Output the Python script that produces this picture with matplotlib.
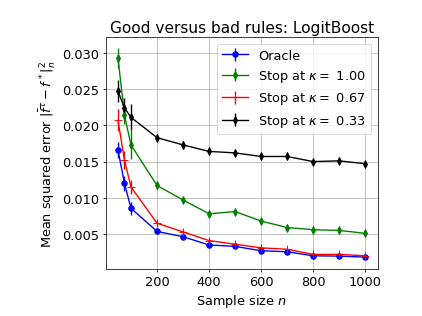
import matplotlib
matplotlib.use("Agg")
import matplotlib.pyplot as plt
import numpy as np

plt.rcParams['font.size'] = 14

# sample sizes
n = [50, 75, 100, 200, 300, 400, 500, 600, 700, 800, 900, 1000]

# mean squared errors
oracle = [0.0166, 0.0120, 0.00855, 0.00537, 0.00463, 0.00350, 0.00330, 0.00270, 0.00256, 0.00200, 0.00196, 0.00182]
stop_100 = [0.0293, 0.0214, 0.0173, 0.0117, 0.0097, 0.0078, 0.0081, 0.0068, 0.0059, 0.0056, 0.0055, 0.0051]
stop_067 = [0.0207, 0.0152, 0.0115, 0.0065, 0.0053, 0.0041, 0.0036, 0.0031, 0.0029, 0.0022, 0.0022, 0.0020]
stop_033 = [0.0247, 0.0224, 0.0211, 0.0183, 0.0173, 0.0164, 0.0162, 0.0157, 0.0157, 0.0150, 0.0151, 0.0147]

# error bar half widths
err_oracle = [0.0011, 0.0010, 0.0009, 0.0004, 0.0003, 0.0003, 0.0002, 0.0002, 0.0002, 0.0002, 0.0002, 0.0002]
err_100 = [0.0014, 0.0012, 0.0020, 0.0005, 0.0004, 0.0004, 0.0004, 0.0003, 0.0003, 0.0003, 0.0003, 0.0003]
err_067 = [0.0015, 0.0012, 0.0010, 0.0004, 0.0003, 0.0003, 0.0002, 0.0002, 0.0002, 0.0002, 0.0002, 0.0002]
err_033 = [0.0015, 0.0014, 0.0018, 0.0005, 0.0005, 0.0004, 0.0004, 0.0003, 0.0003, 0.0003, 0.0003, 0.0003]

fig = plt.figure(figsize=(6.4, 4.8), dpi=66)
ax = fig.add_axes([0.25, 0.148, 0.644, 0.732])

ax.errorbar(n, oracle, yerr=err_oracle, color='blue', marker='o', markersize=6, lw=1.5, label='Oracle')
ax.errorbar(n, stop_100, yerr=err_100, color='green', marker='d', markersize=6, lw=1.5, label=r'Stop at $\kappa =$ 1.00')
ax.errorbar(n, stop_067, yerr=err_067, color='red', marker='+', markersize=8, lw=1.5, label=r'Stop at $\kappa =$ 0.67')
ax.errorbar(n, stop_033, yerr=err_033, color='black', marker='d', markersize=6, lw=1.5, label=r'Stop at $\kappa =$ 0.33')

ax.set_title('Good versus bad rules: LogitBoost')
ax.set_xlabel('Sample size $n$')
ax.set_ylabel(r'Mean squared error $|\bar{f}^{\tau} - f^*|_n^2$')
ax.set_xticks([200, 400, 600, 800, 1000])
ax.grid(True)
ax.legend(loc='upper right')

fig.savefig('out.png', dpi=66)
